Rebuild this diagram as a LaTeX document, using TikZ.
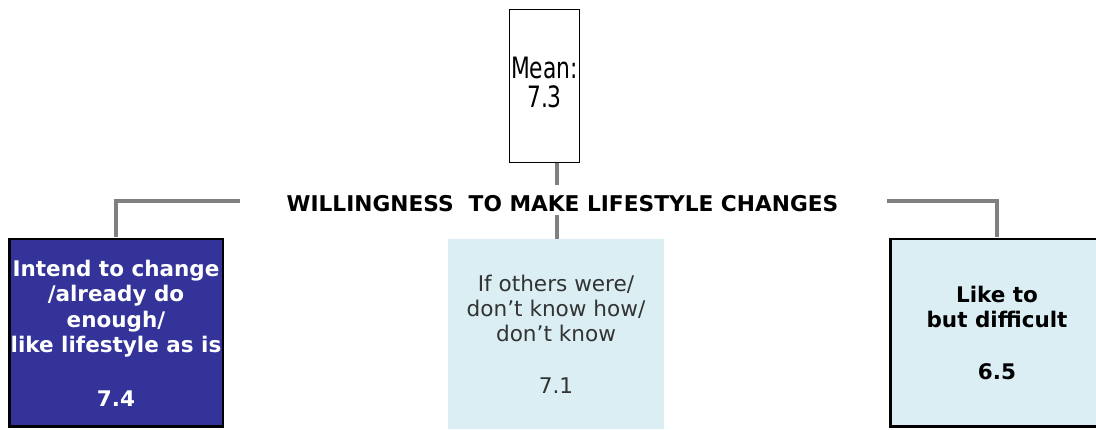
\documentclass[tikz,border=0pt]{standalone}
\usepackage{fontspec}
\setmainfont{DejaVu Sans}
\usepackage{graphicx}
\definecolor{darkbox}{HTML}{333399}
\definecolor{lightbox}{HTML}{DAEEF3}
\definecolor{conn}{HTML}{808080}
\definecolor{midtext}{HTML}{333333}
\tikzset{
  catbox/.style={rectangle, inner sep=0pt, minimum width=213.5pt, minimum height=187.5pt, align=center,
    font=\fontsize{21.6}{25}\selectfont},
  connline/.style={draw=conn, line width=4pt},
  meanbox/.style={rectangle, draw=black, line width=1.3pt, inner sep=0pt, minimum width=70pt, minimum height=153pt,
    font=\fontsize{21.8}{18.5}\selectfont},
  titletext/.style={inner sep=0pt, font=\fontsize{21.7}{25}\selectfont\bfseries}
}
\begin{document}
\begin{tikzpicture}[x=1pt,y=-1pt]
\useasboundingbox (0,0) rectangle (1096,430);
\clip (0,0) rectangle (1096,430);
\fill[white] (0,0) rectangle (1096,430);

% mean box
\node[meanbox] (mean) at (544.5,86) {\scalebox{1}[1.35]{\begin{tabular}{@{}c@{}}Mean:\\7.3\end{tabular}}};

% title
\node[titletext] (title) at (562.5,204) {WILLINGNESS\ \ TO MAKE LIFESTYLE CHANGES};

% boxes
\node[catbox, fill=darkbox, draw=black, line width=2.5pt, text=white, font=\fontsize{21.5}{25.5}\selectfont\bfseries]
  (left) at (116,333) {Intend to change\\/already do\\enough/\\like lifestyle as is\\[28pt]7.4};
\node[catbox, fill=lightbox, minimum width=216pt, minimum height=190pt, text=midtext]
  (mid) at (556,334) {If others were/\\don’t know how/\\don’t know\\[27pt]7.1};
\node[catbox, fill=lightbox, draw=black, line width=2.5pt, font=\fontsize{21.5}{25}\selectfont\bfseries]
  (right) at (997,333) {Like to\\but difficult\\[27pt]6.5};

% connector coordinates
\coordinate (gapT) at (557,185);
\coordinate (gapB) at (557,215);
\coordinate (hl) at (240,201);
\coordinate (hr) at (887,201);

% connectors
\draw[connline] (mean.south -| gapT) -- (gapT);
\draw[connline] (gapB) -- (gapB |- mid.north);
\draw[connline] (hl) -- (hl -| left.north) -- ([yshift=1.25pt]left.north);
\draw[connline] (hr) -- (hr -| right.north) -- ([yshift=1.25pt]right.north);
\end{tikzpicture}
\end{document}
